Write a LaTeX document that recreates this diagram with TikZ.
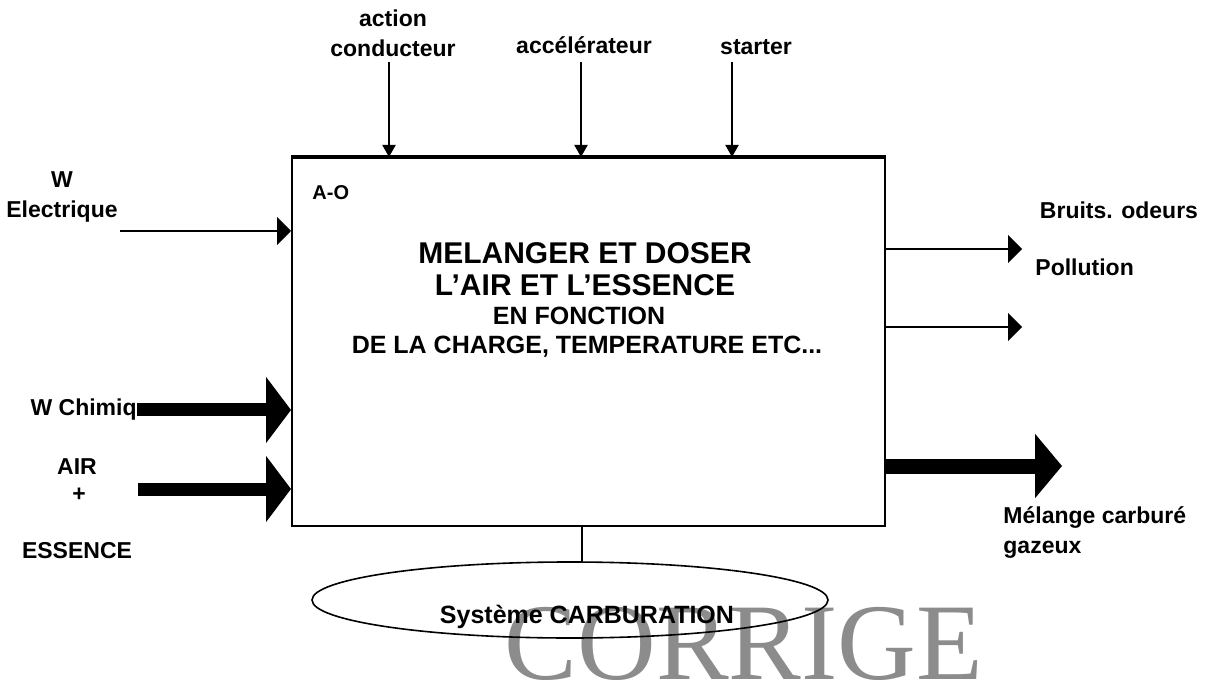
\documentclass[tikz,border=0pt]{standalone}
\usepackage{fontspec}
\setmainfont{Liberation Sans}
\newfontfamily\corrfont{Liberation Serif}
\usetikzlibrary{arrows.meta,shapes.geometric,fit,positioning}

\tikzset{
	lbl/.style={font=\fontsize{11.5}{15}\selectfont\bfseries, inner sep=0pt, align=center},
	titre/.style={font=\fontsize{15}{18}\selectfont\bfseries, inner sep=0pt},
	soustitre/.style={font=\fontsize{12.5}{15}\selectfont\bfseries, inner sep=0pt},
	fleche/.style={line width=1pt, -{Triangle[length=7pt,width=14pt]}},
	petitefleche/.style={line width=1pt, -{Triangle[length=6pt,width=6.5pt]}},
	grossefleche/.style={line width=6.5pt, -{Triangle[length=12.5pt,width=32.5pt]}},
}

\begin{document}
\begin{tikzpicture}[x=0.5pt,y=-0.5pt]
		\useasboundingbox (0,0) rectangle (1208,683);
		
		% Filigrane
		\node[inner sep=0pt, anchor=base, font=\corrfont\fontsize{54.5}{60}\selectfont, text=black!45] (corrige) at (744,679) {CORRIGE};
		
		% Boite A-O
		\node[fit={(292,158) (885,526)}, inner sep=0pt, draw, line width=1pt] (box) {};
		\draw[line width=2pt] (box.north west) -- (box.north east);
		\node[lbl, font=\fontsize{10}{12}\selectfont\bfseries, anchor=west] (ao) at (312,193) {A-O};
		\node[titre] (titre1) at (585,253) {MELANGER ET DOSER};
		\node[titre] (titre2) at (585,285) {L’AIR ET L’ESSENCE};
		\node[soustitre] (titre3) at (579,316) {EN FONCTION};
		\node[soustitre] (titre4) at (587,347) {DE LA CHARGE, TEMPERATURE ETC...};
		
		% Controles (haut)
		\node[lbl] (conducteur) at (393,33) {action\\conducteur};
		\node[lbl] (accel) at (584,45) {accélérateur};
		\node[lbl] (starter) at (756,47) {starter};
		\coordinate (condin) at (389,62);
		\coordinate (accelin) at (581,62);
		\coordinate (starterin) at (732,62);
		\draw[petitefleche] (condin) -- (condin |- box.north);
		\draw[petitefleche] (accelin) -- (accelin |- box.north);
		\draw[petitefleche] (starterin) -- (starterin |- box.north);
		
		% Entrees (gauche)
		\node[lbl] (welec) at (62,197) {W\\Electrique};
		\coordinate (welecin) at (120,231);
		\draw[fleche] (welecin) -- (welecin -| box.west);
		
		\node[lbl, anchor=east] (chimiq) at (137,410) {W Chimiq};
		\draw[grossefleche] (chimiq.east) -- (chimiq.east -| box.west);
		
		\node[lbl] (air) at (77,467) {AIR};
		\node[lbl] (plus) at (79,495) {+};
		\node[lbl] (essence) at (77,551) {ESSENCE};
		\coordinate (airin) at (138,489);
		\draw[grossefleche] (airin) -- (airin -| box.west);
		
		% Sorties (droite)
		\node[lbl] (bruits) at (1119,210) {Bruits. odeurs};
		\node[lbl, anchor=west] (pollution) at (1035,267) {Pollution};
		\coordinate (bruitsout) at (1022,249);
		\coordinate (pollout) at (1022,327);
		\draw[fleche] (bruitsout -| box.east) -- (bruitsout);
		\draw[fleche] (pollout -| box.east) -- (pollout);
		
		\coordinate (melout) at (1062,466);
		\draw[line width=7.5pt, -{Triangle[length=13.5pt,width=31.5pt]}] (melout -| box.east) -- (melout);
		\node[lbl, align=left, anchor=west] (melange) at (1003,533) {Mélange carburé\\gazeux};
		
		% Support (bas)
		\node[draw, ellipse, line width=0.8pt, minimum width=258pt, minimum height=38pt, inner sep=0pt] (sys) at (570,600) {};
		\node[lbl, font=\fontsize{12.5}{15}\selectfont\bfseries] (systxt) at (587,617) {Système CARBURATION};
		\coordinate (sysin) at (582,526);
		\draw[line width=1pt] (sysin) -- (sysin |- sys.north);
	\end{tikzpicture}
\end{document}
